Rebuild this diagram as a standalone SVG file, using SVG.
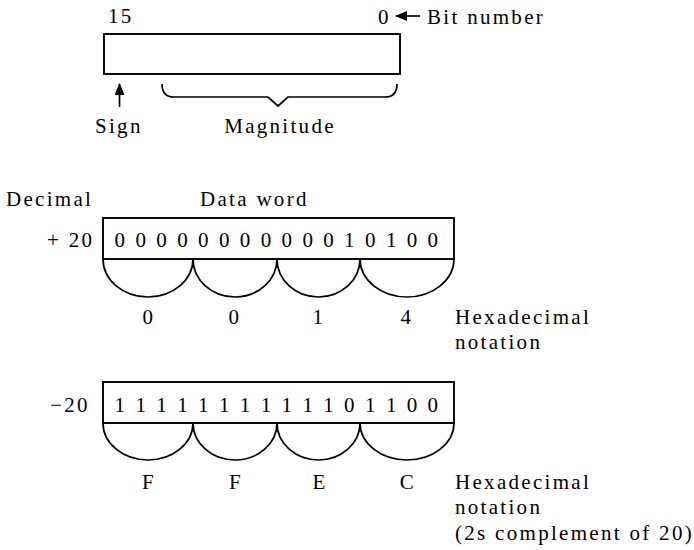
<svg xmlns="http://www.w3.org/2000/svg" width="694" height="550" viewBox="0 0 694 550" font-family="'Liberation Serif', 'DejaVu Serif', serif">
<style>
text{font-family:'Liberation Serif','DejaVu Serif',serif;font-size:21px;fill:#000;letter-spacing:2.3px}
.m{text-anchor:middle}
.box{fill:none;stroke:#000;stroke-width:1.9}
.ln{fill:none;stroke:#000;stroke-width:1.7}
</style>
<defs>
<marker id="ah" markerUnits="userSpaceOnUse" markerWidth="12" markerHeight="10" refX="11" refY="5" orient="auto">
<path d="M0,0 L12,5 L0,10 Z" fill="#000"/>
</marker>
</defs>
<g id="word-format">
<rect class="box" x="104" y="34" width="296" height="40"/>
<text x="108" y="23">15</text>
<text x="378" y="24">0</text>
<text x="427" y="24">Bit number</text>
<text x="95" y="133">Sign</text>
<text class="m" x="280" y="133">Magnitude</text>
</g>
<g id="headers">
<text x="6" y="206">Decimal</text>
<text x="200" y="206">Data word</text>
</g>
<g id="word-plus20">
<text x="47" y="247">+ 20</text>
<rect class="box" x="103" y="218" width="351" height="41"/>
<text class="m" x="121" y="247">0</text><text class="m" x="141.9" y="247">0</text><text class="m" x="162.7" y="247">0</text><text class="m" x="183.6" y="247">0</text>
<text class="m" x="204.5" y="247">0</text><text class="m" x="225.3" y="247">0</text><text class="m" x="246.2" y="247">0</text><text class="m" x="267.1" y="247">0</text>
<text class="m" x="287.9" y="247">0</text><text class="m" x="308.8" y="247">0</text><text class="m" x="329.7" y="247">0</text><text class="m" x="350.5" y="247">1</text>
<text class="m" x="371.4" y="247">0</text><text class="m" x="392.3" y="247">1</text><text class="m" x="413.1" y="247">0</text><text class="m" x="434" y="247">0</text>
<text class="m" x="149" y="324">0</text>
<text class="m" x="235" y="324">0</text>
<text class="m" x="319" y="324">1</text>
<text class="m" x="407" y="324">4</text>
<text x="455" y="324">Hexadecimal</text>
<text x="455" y="349">notation</text>
</g>
<g id="word-minus20">
<text x="50" y="412">−20</text>
<rect class="box" x="103" y="382" width="351" height="41"/>
<text class="m" x="121" y="412">1</text><text class="m" x="141.9" y="412">1</text><text class="m" x="162.7" y="412">1</text><text class="m" x="183.6" y="412">1</text>
<text class="m" x="204.5" y="412">1</text><text class="m" x="225.3" y="412">1</text><text class="m" x="246.2" y="412">1</text><text class="m" x="267.1" y="412">1</text>
<text class="m" x="287.9" y="412">1</text><text class="m" x="308.8" y="412">1</text><text class="m" x="329.7" y="412">1</text><text class="m" x="350.5" y="412">0</text>
<text class="m" x="371.4" y="412">1</text><text class="m" x="392.3" y="412">1</text><text class="m" x="413.1" y="412">0</text><text class="m" x="434" y="412">0</text>
<text class="m" x="149" y="489">F</text>
<text class="m" x="236" y="489">F</text>
<text class="m" x="320" y="489">E</text>
<text class="m" x="408" y="489">C</text>
<text x="455" y="489">Hexadecimal</text>
<text x="455" y="514">notation</text>
<text x="455" y="540">(2s complement of 20)</text>
</g>
<g id="connectors">
<line class="ln" x1="420" y1="16" x2="396" y2="16" marker-end="url(#ah)"/>
<line class="ln" x1="119.5" y1="107" x2="119.5" y2="84" marker-end="url(#ah)"/>
<path class="ln" d="M162,84 Q162,97 174,97 L268,97 L278,106 L288,97 L385,97 Q397,97 397,84"/>
<path class="ln" d="M103,259 A45,38 0 0 0 193,259 A42,38 0 0 0 277,259 A41.5,38 0 0 0 360,259 A47,38 0 0 0 454,259"/>
<path class="ln" d="M103,423 A45,37 0 0 0 193,423 A42,37 0 0 0 277,423 A41.5,37 0 0 0 360,423 A47,37 0 0 0 454,423"/>
</g>
</svg>
